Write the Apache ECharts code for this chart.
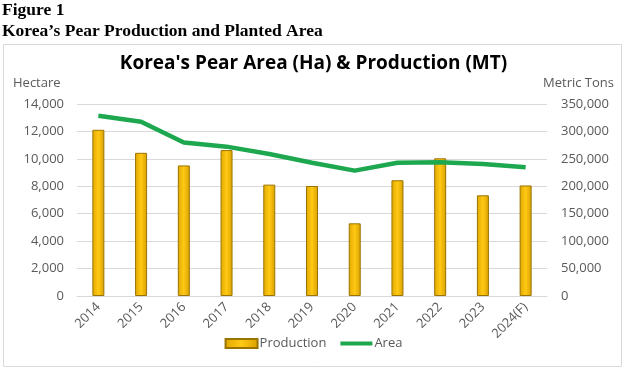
<!DOCTYPE html>
<html>
<head>
<meta charset="utf-8">
<script src="https://cdn.jsdelivr.net/npm/echarts@6/dist/echarts.min.js"></script>
<style>
html,body{margin:0;padding:0;background:#fff;}
#chart{width:627px;height:369px;}
</style>
</head>
<body>
<div id="chart"></div>
<script>
const years = ['2014','2015','2016','2017','2018','2019','2020','2021','2022','2023','2024(F)'];
const production = [303000, 261000, 238000, 266000, 203000, 200500, 132500, 211000, 251000, 183500, 201500];
const area = [13150, 12710, 11200, 10890, 10350, 9720, 9140, 9720, 9750, 9625, 9380];
const leftTicks = [0, 2000, 4000, 6000, 8000, 10000, 12000, 14000];
const rightTicks = [0, 50000, 100000, 150000, 200000, 250000, 300000, 350000];

const chart = echarts.init(document.getElementById('chart'));
const fmt = v => v.toLocaleString('en-US');
const gold = new echarts.graphic.LinearGradient(0, 0, 1, 0, [
  {offset: 0, color: '#e0a800'},
  {offset: 0.5, color: '#ffc914'},
  {offset: 1, color: '#d9a000'}
]);
chart.setOption({
  animation: false,
  graphic: [
    {type: 'text', left: 2, top: 1, style: {text: 'Figure 1', font: 'bold 17.5px "Liberation Serif"', fill: '#000'}},
    {type: 'text', left: 2, top: 22, style: {text: 'Korea\u2019s Pear Production and Planted Area', font: 'bold 17.5px "Liberation Serif"', fill: '#000'}},
    {type: 'rect', shape: {x: 3.5, y: 44.5, width: 618, height: 322}, style: {fill: 'none', stroke: '#d9d9d9', lineWidth: 1}},
    {type: 'text', left: 13, top: 77, style: {text: 'Hectare', font: '13px "Open Sans"', fill: '#595959'}},
    {type: 'text', left: 543, top: 77, style: {text: 'Metric Tons', font: '13px "Open Sans"', fill: '#595959'}}
  ],
  title: {
    text: "Korea's Pear Area (Ha) & Production (MT)",
    left: 'center', top: 49,
    textStyle: {fontFamily: 'Open Sans', fontWeight: 'bold', fontSize: 19, color: '#000'}
  },
  legend: {
    bottom: 14, left: 'center',
    itemGap: 14, itemWidth: 32, itemHeight: 9,
    textStyle: {fontFamily: 'Open Sans', fontSize: 13, color: '#595959', padding: [0, 0, 0, -3]},
    data: [
      {name: 'Production', icon: 'rect'},
      {name: 'Area', icon: 'path://M0,0 L32,0 L32,4 L0,4 Z'}
    ]
  },
  grid: {left: 77, right: 80, top: 104, bottom: 73},
  xAxis: {
    type: 'category', data: years,
    axisLine: {lineStyle: {color: '#d9d9d9'}},
    axisTick: {show: false},
    axisLabel: {rotate: 45, fontFamily: 'Open Sans', fontSize: 13, color: '#595959', margin: 9}
  },
  yAxis: [
    {
      type: 'value', min: 0, max: 14000, interval: 2000,
      axisLine: {show: false}, axisTick: {show: false},
      splitLine: {lineStyle: {color: '#d9d9d9'}},
      axisLabel: {formatter: fmt, fontFamily: 'Open Sans', fontSize: 13, color: '#595959', margin: 13}
    },
    {
      type: 'value', min: 0, max: 350000, interval: 50000,
      axisLine: {show: false}, axisTick: {show: false},
      splitLine: {show: false},
      axisLabel: {formatter: fmt, fontFamily: 'Open Sans', fontSize: 13, color: '#595959', margin: 14}
    }
  ],
  series: [
    {
      name: 'Production', type: 'bar', yAxisIndex: 1, data: production,
      barWidth: 12,
      itemStyle: {color: gold, borderColor: '#9a7400', borderWidth: 1}
    },
    {
      name: 'Area', type: 'line', yAxisIndex: 0, data: area,
      symbol: 'none', smooth: false,
      lineStyle: {color: '#1da84f', width: 4.5},
      itemStyle: {color: '#1da84f'}
    }
  ]
});
</script>
</body>
</html>
